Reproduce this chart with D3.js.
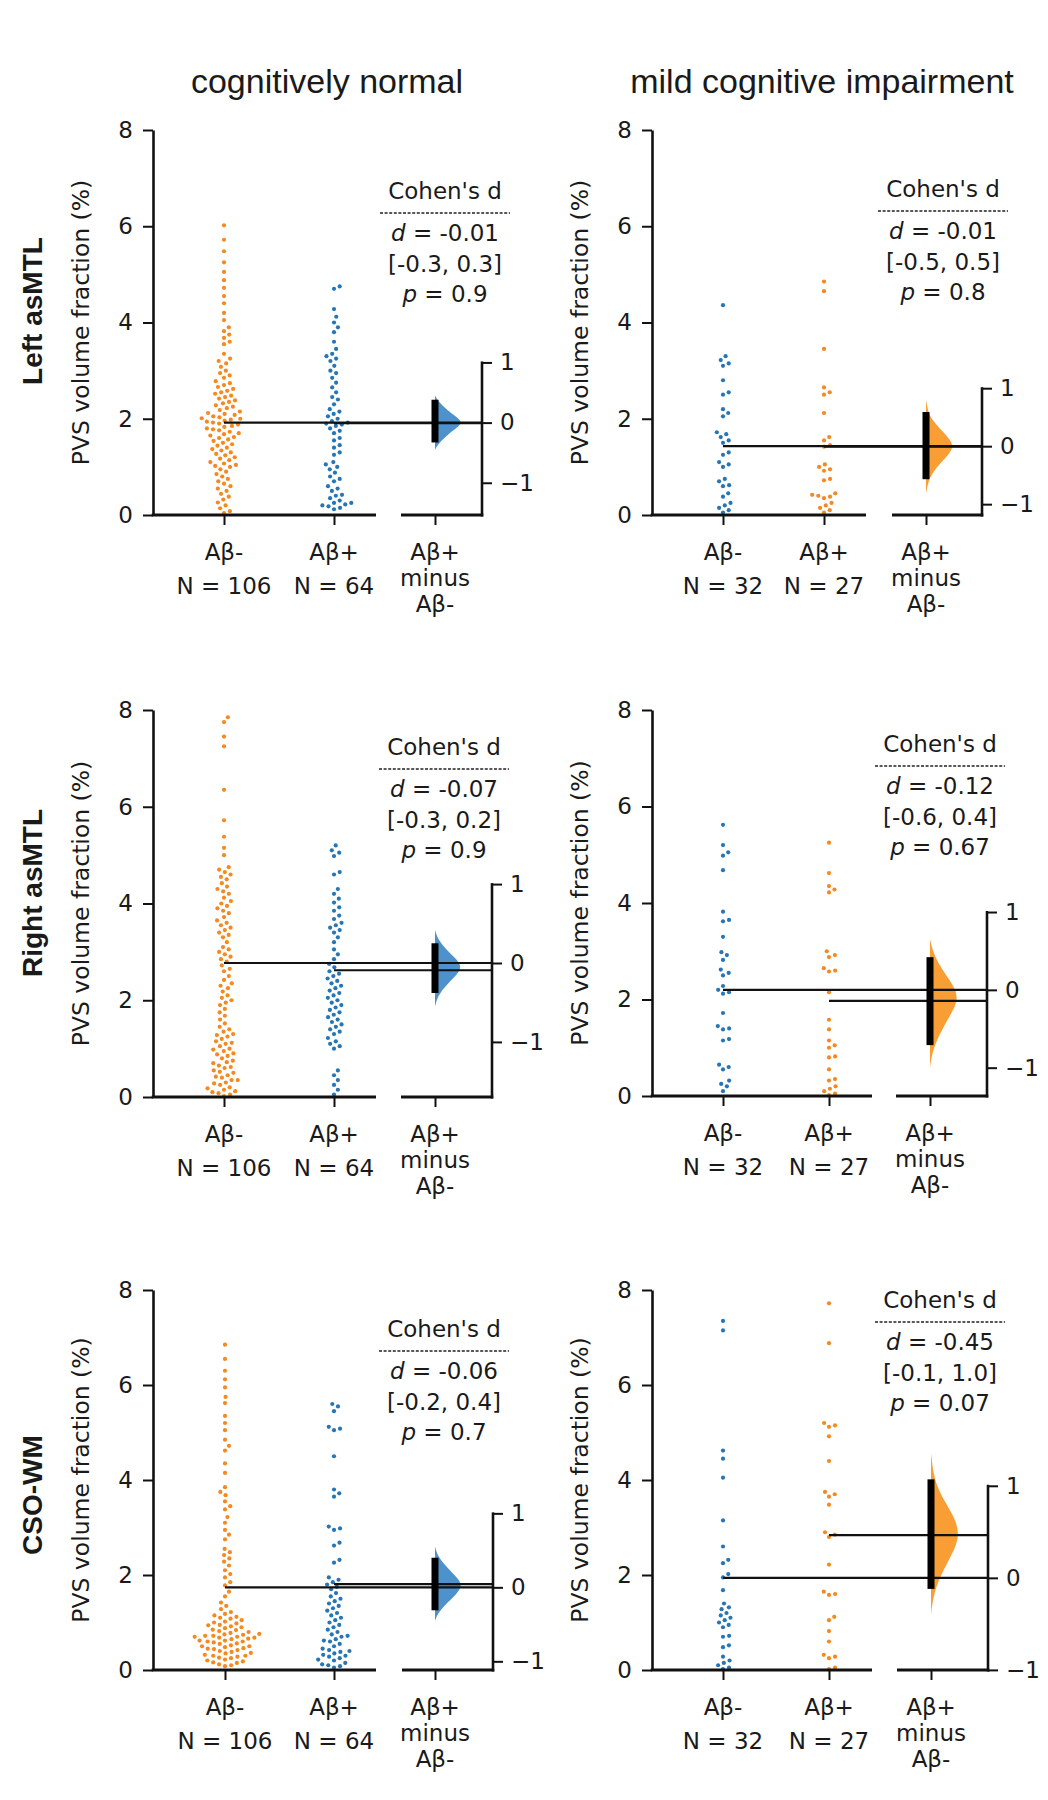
<!DOCTYPE html>
<html><head><meta charset="utf-8">
<script src="https://cdn.jsdelivr.net/npm/d3@7"></script>
<style>
body{margin:0;background:#fff}
svg text{font-family:"DejaVu Sans",sans-serif;fill:#1a1a1a}
</style>
</head><body>
<svg id="c" width="1048" height="1800"></svg>
<script>
// ---------------- DATA ----------------
const columnTitles = ["cognitively normal", "mild cognitive impairment"];
const rowTitles = ["Left asMTL", "Right asMTL", "CSO-WM"];
const groupLabels = ["Aβ-", "Aβ+"];
const deltaLabelLines = ["Aβ+", "minus", "Aβ-"];
const yTicks = [0, 2, 4, 6, 8];
const deltaTicks = [-1, 0, 1];
const nCN = [106, 64];
const nMCI = [32, 27];

// Left asMTL, cognitively normal
const cnLeftNeg = [6.02,5.72,5.48,5.25,5.05,4.88,4.72,4.55,4.40,4.20,4.05,
 3.90,3.82,3.75,3.68,3.60,3.55,3.35,3.25,3.20,3.15,3.08,3.00,2.95,2.90,2.85,
 2.78,2.74,2.70,2.66,2.62,2.58,2.55,2.52,2.48,2.45,2.42,2.38,2.35,2.32,2.28,2.25,2.22,2.18,2.15,2.12,2.10,2.08,2.05,2.03,2.01,2.00,
 1.98,1.96,1.94,1.92,1.90,1.88,1.85,1.83,1.80,1.78,1.76,1.73,1.70,1.68,1.65,1.62,1.60,1.57,1.54,1.50,1.47,1.44,1.40,1.37,1.34,1.30,1.27,1.24,1.20,1.17,1.14,1.10,1.07,1.04,1.02,1.00,
 0.95,0.90,0.85,0.80,0.75,0.70,0.65,0.60,0.55,0.50,0.44,0.38,0.32,0.26,0.20,0.14,0.08,0.04];
const cnLeftPos = [4.75,4.70,4.28,4.12,4.00,3.90,3.80,3.60,3.45,3.35,3.30,3.25,3.20,3.10,3.00,2.95,
 2.85,2.75,2.65,2.55,2.45,2.40,2.30,2.20,2.15,2.10,2.05,2.00,1.95,1.92,1.90,1.88,
 1.85,1.80,1.75,1.70,1.60,1.55,1.45,1.40,1.30,1.25,1.10,1.05,1.00,
 0.95,0.88,0.80,0.75,0.70,0.60,0.55,0.50,0.42,0.40,0.35,0.30,0.25,0.25,0.22,0.20,0.18,0.15,0.12];
// Left asMTL, MCI
const mciLeftNeg = [4.36,3.30,3.22,3.15,3.10,2.80,2.55,2.50,2.20,2.12,2.05,1.72,1.68,1.62,1.55,1.50,1.30,1.25,1.10,1.05,1.00,0.75,0.70,0.62,0.60,0.45,0.38,0.25,0.20,0.15,0.10,0.05];
const mciLeftPos = [4.85,4.65,3.45,2.65,2.55,2.50,2.12,1.62,1.55,1.45,1.42,1.05,1.00,0.95,0.92,0.75,0.72,0.45,0.42,0.40,0.38,0.35,0.25,0.20,0.15,0.10,0.05];
// Right asMTL, cognitively normal
const cnRightNeg = [7.85,7.75,7.45,7.25,6.35,5.72,5.38,5.15,5.00,
 4.75,4.70,4.65,4.60,4.55,4.50,4.42,4.35,4.30,4.25,4.20,4.12,4.05,4.00,
 3.95,3.90,3.85,3.80,3.72,3.65,3.60,3.55,3.50,3.45,3.40,3.35,3.30,3.20,3.10,3.05,3.00,
 2.95,2.90,2.85,2.80,2.72,2.65,2.60,2.50,2.42,2.35,2.30,2.25,2.18,2.10,2.05,2.00,
 1.95,1.90,1.82,1.75,1.68,1.60,1.52,1.45,1.40,1.35,1.30,1.28,1.25,1.20,1.15,1.12,1.10,1.05,1.00,
 0.98,0.95,0.90,0.88,0.85,0.80,0.75,0.72,0.70,0.65,0.62,0.60,0.55,0.52,0.50,0.45,0.42,0.40,0.35,0.35,0.30,0.28,0.25,0.20,0.18,0.15,0.12,0.10,0.08,0.05,0.02];
const cnRightPos = [5.20,5.10,5.05,4.98,4.65,4.60,4.30,4.20,4.10,4.02,3.92,3.85,3.75,3.68,3.60,3.55,3.50,3.45,3.40,3.30,3.20,
 3.05,2.95,2.85,2.75,2.68,2.60,2.55,2.50,2.45,2.40,
 2.35,2.30,2.25,2.20,2.15,2.10,2.05,2.00,1.95,1.90,1.85,1.80,1.75,1.70,1.65,1.60,1.55,1.50,
 1.45,1.40,1.35,1.30,1.22,1.15,1.10,1.05,1.00,
 0.55,0.45,0.35,0.25,0.15,0.05];
// Right asMTL, MCI
const mciRightNeg = [5.62,5.20,5.05,4.98,4.68,3.82,3.65,3.62,3.30,2.98,2.92,2.82,2.62,2.55,2.50,2.28,2.20,2.15,2.12,1.72,1.45,1.40,1.38,1.18,1.15,0.65,0.60,0.55,0.32,0.25,0.20,0.10];
const mciRightPos = [5.25,4.62,4.35,4.28,4.22,3.00,2.92,2.88,2.65,2.60,2.58,2.15,1.58,1.38,1.15,1.05,1.00,0.82,0.80,0.55,0.35,0.32,0.20,0.15,0.10,0.05,0.02];
// CSO-WM, cognitively normal
const cnCsoNeg = [6.85,6.55,6.30,6.12,5.95,5.75,5.62,5.35,5.20,5.05,4.85,4.72,4.62,4.35,4.15,3.85,3.75,3.68,3.55,3.45,3.38,3.22,3.10,
 2.95,2.85,2.75,2.55,2.48,2.42,2.35,2.28,2.20,2.10,2.02,
 1.95,1.85,1.78,1.65,1.55,1.42,1.35,1.28,1.22,
 1.18,1.15,1.12,1.10,1.08,1.05,1.02,1.00,0.98,0.95,
 0.94,0.92,0.90,0.88,0.85,0.84,0.82,0.80,0.78,0.76,
 0.75,0.74,0.72,0.72,0.70,0.70,0.68,0.68,0.66,0.65,
 0.62,0.62,0.60,0.60,0.58,0.56,0.55,0.52,0.50,0.50,
 0.48,0.46,0.45,0.44,0.42,0.40,0.38,0.36,0.35,0.32,
 0.30,0.30,0.28,0.26,0.25,0.22,0.20,0.18,0.16,0.15,
 0.12,0.10,0.08];
const cnCsoPos = [5.60,5.55,5.45,5.12,5.08,5.05,4.50,3.80,3.72,3.65,3.02,2.98,2.95,2.68,2.62,2.32,2.26,
 1.95,1.90,1.85,1.80,1.75,1.70,1.62,1.55,1.50,1.45,1.40,1.35,1.30,1.25,1.20,1.15,1.10,1.05,1.00,
 0.95,0.90,0.85,0.80,0.75,0.72,0.70,0.65,0.62,0.60,0.55,0.50,0.45,0.42,0.40,0.38,0.35,0.32,0.30,0.28,0.25,0.22,0.20,0.15,0.12,0.10,0.08,0.05];
// CSO-WM, MCI
const mciCsoNeg = [7.35,7.15,4.62,4.45,4.05,3.15,2.60,2.32,2.25,2.02,1.95,1.68,1.40,1.32,1.28,1.20,1.15,1.10,1.05,1.00,0.95,0.90,0.72,0.70,0.52,0.48,0.28,0.20,0.15,0.10,0.05,0.02];
const mciCsoPos = [7.72,6.88,5.20,5.15,5.12,4.92,4.40,3.75,3.70,3.65,3.48,2.90,2.85,2.80,2.22,1.65,1.60,1.58,1.12,1.05,0.82,0.60,0.32,0.28,0.25,0.05,0.02];

// group means drawn as horizontal lines (panel order: row-major, CN then MCI)
const ctrlMeans = [1.92, 1.43, 2.77, 2.20, 1.74, 1.94];
const testMeans = [1.91, 1.42, 2.62, 1.97, 1.81, 2.84];
// Cohen's d units per 1 % of PVS volume fraction (delta axis scaling)
const dPerPct = [0.80, 0.83, 0.613, 0.62, 0.642, 0.516];
// drawn 95% CI bars (Cohen's d)
const ciLow  = [-0.33, -0.57, -0.38, -0.71, -0.31, -0.12];
const ciHigh = [ 0.38,  0.59,  0.25,  0.42,  0.40,  1.07];
// bootstrap distribution outlines: [d, relative density]
const violin1 = [[-0.45,0],[-0.35,0.12],[-0.2,0.45],[-0.1,0.75],[0,1],[0.1,0.75],[0.2,0.45],[0.35,0.12],[0.45,0]];
const violin2 = [[-0.82,0],[-0.6,0.08],[-0.45,0.25],[-0.3,0.5],[-0.15,0.8],[0,1],[0.15,0.8],[0.3,0.5],[0.45,0.22],[0.6,0.07],[0.8,0]];
const violin3 = [[-0.55,0],[-0.42,0.1],[-0.3,0.35],[-0.18,0.7],[-0.05,1],[0.07,0.7],[0.18,0.38],[0.3,0.1],[0.42,0]];
const violin4 = [[-1.0,0],[-0.8,0.08],[-0.6,0.3],[-0.4,0.6],[-0.25,0.85],[-0.1,1],[0.05,0.85],[0.2,0.55],[0.35,0.28],[0.5,0.1],[0.65,0]];
const violin5 = [[-0.45,0],[-0.35,0.1],[-0.22,0.4],[-0.1,0.75],[0.03,1],[0.15,0.75],[0.28,0.4],[0.42,0.1],[0.55,0]];
const violin6 = [[-0.4,0],[-0.2,0.08],[0,0.3],[0.2,0.65],[0.35,0.9],[0.49,1],[0.65,0.85],[0.8,0.55],[0.95,0.28],[1.1,0.1],[1.35,0]];
// annotation texts
const dTexts  = ["-0.01", "-0.01", "-0.07", "-0.12", "-0.06", "-0.45"];
const ciTexts = ["[-0.3, 0.3]", "[-0.5, 0.5]", "[-0.3, 0.2]", "[-0.6, 0.4]", "[-0.2, 0.4]", "[-0.1, 1.0]"];
const pTexts  = ["0.9", "0.8", "0.9", "0.67", "0.7", "0.07"];

// ---------------- LAYOUT / STYLE ----------------
const ORANGE = "#f5891f", BLUE = "#2676b5";
const VORANGE = "#f7931e", VBLUE = "#3a86c6";
const layout = [
 {top:130, bottom:515, yAxisX:153, ctrlX:224, testX:334, xEnd:376, dStart:401, dX:435, spine:482, textX:445, textY:199},
 {top:130, bottom:515, yAxisX:652, ctrlX:723, testX:824, xEnd:866, dStart:892, dX:926, spine:982, textX:943, textY:197},
 {top:710, bottom:1097, yAxisX:153, ctrlX:224, testX:334, xEnd:376, dStart:401, dX:435, spine:492, textX:444, textY:755},
 {top:710, bottom:1096, yAxisX:652, ctrlX:723, testX:829, xEnd:872, dStart:896, dX:930, spine:987, textX:940, textY:752},
 {top:1290, bottom:1670, yAxisX:153, ctrlX:225, testX:334, xEnd:376, dStart:402, dX:435, spine:493, textX:444, textY:1337},
 {top:1290, bottom:1670, yAxisX:652, ctrlX:723, testX:829, xEnd:872, dStart:897, dX:931, spine:988, textX:940, textY:1308}
];

// table built from the arrays
const ctrlSets = [cnLeftNeg, mciLeftNeg, cnRightNeg, mciRightNeg, cnCsoNeg, mciCsoNeg];
const testSets = [cnLeftPos, mciLeftPos, cnRightPos, mciRightPos, cnCsoPos, mciCsoPos];
const violins = [violin1, violin2, violin3, violin4, violin5, violin6];

const svg = d3.select("#c");

function swarm(values, yScale, cx, d) {
  const pts = values.map(v => ({v, y: yScale(v)})).sort((a, b) => b.y - a.y);
  const placed = [];
  for (const p of pts) {
    const near = placed.filter(q => Math.abs(q.y - p.y) < d);
    const cands = [0];
    for (const q of near) {
      const dx = Math.sqrt(d * d - (q.y - p.y) ** 2);
      cands.push(q.off + dx, q.off - dx);
    }
    cands.sort((a, b) => Math.abs(a) - Math.abs(b));
    for (const c of cands) {
      if (near.every(q => (q.off - c) ** 2 + (q.y - p.y) ** 2 >= d * d - 1e-6)) { p.off = c; break; }
    }
    placed.push(p);
  }
  return placed.map(p => ({v: p.v, y: p.y, x: cx + p.off}));
}

// column & row titles
columnTitles.forEach((t, i) => {
  svg.append("text").attr("x", [327, 822][i]).attr("y", 93)
    .attr("text-anchor", "middle").style("font-family", "'Liberation Sans', Arial, sans-serif")
    .style("font-size", "34px").text(t);
});
rowTitles.forEach((t, i) => {
  const cy = [311, 893, 1495][i];
  svg.append("text").attr("transform", `translate(42,${cy}) rotate(-90)`)
    .attr("text-anchor", "middle").style("font-family", "'Liberation Sans', Arial, sans-serif")
    .style("font-weight", "bold").style("font-size", "28px").text(t);
});

layout.forEach((L, i) => {
  const col = i % 2;
  const ctrlColor = col === 0 ? ORANGE : BLUE;
  const testColor = col === 0 ? BLUE : ORANGE;
  const violinColor = col === 0 ? VBLUE : VORANGE;
  const ns = col === 0 ? nCN : nMCI;
  const g = svg.append("g");

  const y = d3.scaleLinear().domain([0, 8]).range([L.bottom, L.top]);
  const c = ctrlMeans[i], k = dPerPct[i];
  const dS = d3.scaleLinear().domain([(0 - c) * k, (8 - c) * k]).range([L.bottom, L.top]);
  const x = d3.scaleOrdinal().domain(["ctrl", "test", "delta"]).range([L.ctrlX, L.testX, L.dX]);

  // swarms
  [["ctrl", ctrlSets[i], ctrlColor], ["test", testSets[i], testColor]].forEach(([key, vals, colr]) => {
    const pts = swarm(vals, y, x(key), 6.2);
    g.append("g").selectAll("circle").data(pts).join("circle")
      .attr("cx", d => d.x).attr("cy", d => d.y).attr("r", 2.1).attr("fill", colr);
  });

  // bootstrap distribution (half violin)
  const area = d3.area().curve(d3.curveBasis)
    .y(d => dS(d[0])).x0(x("delta")).x1(d => x("delta") + d[1] * 28);
  g.append("path").datum(violins[i]).attr("d", area).attr("fill", violinColor).attr("opacity", 0.9);

  // mean lines
  g.append("line").attr("x1", x("ctrl")).attr("x2", L.spine).attr("y1", y(c)).attr("y2", y(c))
    .attr("stroke", "#111").attr("stroke-width", 2.2);
  g.append("line").attr("x1", x("test")).attr("x2", L.spine).attr("y1", y(testMeans[i])).attr("y2", y(testMeans[i]))
    .attr("stroke", "#111").attr("stroke-width", 2.2);

  // CI bar
  g.append("line").attr("x1", x("delta")).attr("x2", x("delta"))
    .attr("y1", dS(ciLow[i])).attr("y2", dS(ciHigh[i]))
    .attr("stroke", "#000").attr("stroke-width", 7);

  // left y axis
  const yAx = d3.axisLeft(y).tickValues(yTicks).tickSize(10).tickPadding(10).tickSizeOuter(0);
  const ya = g.append("g").attr("transform", `translate(${L.yAxisX},0)`).call(yAx)
    .attr("font-size", 23).attr("font-family", null);
  ya.select(".domain").attr("stroke", "#111").attr("stroke-width", 2.6);
  ya.selectAll(".tick line").attr("stroke", "#111").attr("stroke-width", 2);
  ya.selectAll(".tick text").attr("font-size", 23).style("font-size", "23px").attr("fill", "#1a1a1a");

  // y label
  g.append("text").attr("transform", `translate(${L.yAxisX - 64},${(L.top + L.bottom) / 2}) rotate(-90)`)
    .attr("text-anchor", "middle").style("font-size", "23.5px").text("PVS volume fraction (%)");

  // x axis lines
  g.append("line").attr("x1", L.yAxisX - 1.3).attr("x2", L.xEnd).attr("y1", L.bottom).attr("y2", L.bottom)
    .attr("stroke", "#111").attr("stroke-width", 3);
  g.append("line").attr("x1", L.dStart).attr("x2", L.spine + 1.3).attr("y1", L.bottom).attr("y2", L.bottom)
    .attr("stroke", "#111").attr("stroke-width", 3);
  const xAx = d3.axisBottom(x).tickValues(["ctrl", "test", "delta"]).tickSize(10).tickSizeOuter(0).tickFormat("");
  const xa = g.append("g").attr("transform", `translate(0,${L.bottom})`).call(xAx);
  xa.select(".domain").remove();
  xa.selectAll(".tick line").attr("stroke", "#111").attr("stroke-width", 2);

  // category labels
  const lab = (key, lines, dys) => {
    const t = g.append("text").attr("text-anchor", "middle").style("font-size", "23px");
    lines.forEach((s, j) => t.append("tspan").attr("x", x(key)).attr("y", L.bottom + dys[j]).text(s));
  };
  lab("ctrl", [groupLabels[0], `N = ${ns[0]}`], [45, 79]);
  lab("test", [groupLabels[1], `N = ${ns[1]}`], [45, 79]);
  lab("delta", deltaLabelLines, [45, 71, 97]);

  // delta axis on the right
  const dAx = d3.axisRight(dS).tickValues(deltaTicks).tickSize(10).tickPadding(8).tickSizeOuter(0)
    .tickFormat(d3.format("d"));
  const da = g.append("g").attr("transform", `translate(${L.spine},0)`).call(dAx)
    .attr("font-size", 23).attr("font-family", null);
  da.select(".domain").remove();
  da.selectAll(".tick line").attr("stroke", "#111").attr("stroke-width", 2);
  da.selectAll(".tick text").style("font-size", "23px").attr("fill", "#1a1a1a");
  g.append("line").attr("x1", L.spine).attr("x2", L.spine).attr("y1", dS(1) - 1).attr("y2", L.bottom + 1.5)
    .attr("stroke", "#111").attr("stroke-width", 2.6);

  // effect-size annotation
  const tx = L.textX, ty = L.textY;
  g.append("text").attr("x", tx).attr("y", ty).attr("text-anchor", "middle").style("font-size", "23px").text("Cohen's d");
  g.append("line").attr("x1", tx - 65).attr("x2", tx + 65).attr("y1", ty + 14).attr("y2", ty + 14)
    .attr("stroke", "#222").attr("stroke-width", 1.3).attr("stroke-dasharray", "3,1.6");
  const t1 = g.append("text").attr("x", tx).attr("y", ty + 42).attr("text-anchor", "middle").style("font-size", "23px");
  t1.append("tspan").style("font-style", "italic").text("d");
  t1.append("tspan").text(" = " + dTexts[i]);
  g.append("text").attr("x", tx).attr("y", ty + 73).attr("text-anchor", "middle").style("font-size", "23px").text(ciTexts[i]);
  const t3 = g.append("text").attr("x", tx).attr("y", ty + 103).attr("text-anchor", "middle").style("font-size", "23px");
  t3.append("tspan").style("font-style", "italic").text("p");
  t3.append("tspan").text(" = " + pTexts[i]);
});
</script>
</body></html>
